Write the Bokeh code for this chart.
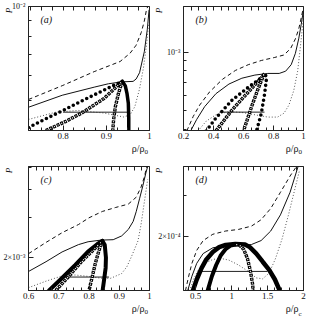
import math
from bokeh.plotting import figure
from bokeh.layouts import gridplot
from bokeh.models import Range1d, FixedTicker, Label, LinearAxis
from bokeh.embed import file_html
from bokeh.resources import INLINE

FONT = "Liberation Serif"

# ---------------- panel (a) ----------------
A_dash_x = [0.72, 0.798, 0.872, 0.932, 0.955, 0.969, 0.981, 0.988, 0.993, 0.996]
A_dash_y = [5.03e-3, 5.57e-3, 6.18e-3, 6.66e-3, 7.08e-3, 7.51e-3, 8.26e-3, 8.98e-3, 9.76e-3, 1.0e-2]
A_solid_x = [0.72, 0.798, 0.872, 0.905, 0.936, 0.962, 0.969, 0.977, 0.988, 0.995, 0.999]
A_solid_y = [4.75e-3, 5.19e-3, 5.51e-3, 5.65e-3, 5.73e-3, 5.75e-3, 5.85e-3, 6.13e-3, 7.16e-3, 8.46e-3, 9.76e-3]
A_dot_x = [0.72, 0.783, 0.835, 0.895, 0.94, 0.955, 0.966, 0.977, 0.986, 0.993, 0.998]
A_dot_y = [4.34e-3, 4.58e-3, 4.64e-3, 4.55e-3, 4.42e-3, 4.49e-3, 4.77e-3, 5.44e-3, 6.36e-3, 7.51e-3, 8.87e-3]
A_tie_x = [0.80, 0.951]
A_tie_y = [4.58e-3, 4.58e-3]
A_fill_x = [0.72, 0.76, 0.80, 0.84, 0.88, 0.91, 0.937]
A_fill_y = [4.09e-3, 4.36e-3, 4.64e-3, 4.95e-3, 5.27e-3, 5.52e-3, 5.76e-3]
A_open_x = [0.760, 0.805, 0.843, 0.895, 0.937, 0.928, 0.921, 0.917, 0.915]
A_open_y = [4.0e-3, 4.27e-3, 4.55e-3, 5.07e-3, 5.76e-3, 5.25e-3, 4.77e-3, 4.34e-3, 4.0e-3]
A_thick_x = [0.937, 0.944, 0.948, 0.951, 0.952, 0.952]
A_thick_y = [5.76e-3, 5.56e-3, 5.25e-3, 4.89e-3, 4.39e-3, 4.0e-3]
A_xticks = [0.8, 0.9, 1.0]
A_xlabels = ["0.8", "0.9", "1"]
A_yticks = [1e-2]
A_ylabels = ["10⁻²"]

# ---------------- panel (b) ----------------
B_dash_x = [0.222, 0.265, 0.308, 0.373, 0.46, 0.546, 0.632, 0.719, 0.805, 0.870, 0.914, 0.946, 0.968, 0.985, 0.996]
B_dash_y = [3.92e-4, 4.66e-4, 5.33e-4, 6.22e-4, 7.24e-4, 8.04e-4, 8.61e-4, 9.05e-4, 9.37e-4, 9.66e-4, 1.043e-3, 1.17e-3, 1.313e-3, 1.502e-3, 1.653e-3]
B_solid_x = [0.248, 0.287, 0.341, 0.416, 0.503, 0.589, 0.676, 0.762, 0.838, 0.881, 0.918, 0.946, 0.968, 0.985, 1.0]
B_solid_y = [3.92e-4, 4.48e-4, 5.23e-4, 6.10e-4, 6.84e-4, 7.33e-4, 7.61e-4, 7.76e-4, 7.76e-4, 7.97e-4, 8.61e-4, 9.85e-4, 1.17e-3, 1.391e-3, 1.653e-3]
B_dot_x = [0.297, 0.351, 0.416, 0.503, 0.589, 0.676, 0.762, 0.827, 0.870, 0.903, 0.935, 0.961, 0.978, 0.994, 1.0]
B_dot_y = [3.92e-4, 4.40e-4, 4.75e-4, 4.93e-4, 4.88e-4, 4.75e-4, 4.62e-4, 4.62e-4, 4.84e-4, 5.33e-4, 6.33e-4, 7.97e-4, 1.043e-3, 1.365e-3, 1.56e-3]
B_tie_x = [0.44, 0.74]
B_tie_y = [4.90e-4, 4.90e-4]
B_fill_x = [0.351, 0.416, 0.524, 0.632, 0.719, 0.742, 0.754, 0.741, 0.719, 0.687]
B_fill_y = [3.92e-4, 4.57e-4, 5.65e-4, 6.58e-4, 7.38e-4, 7.76e-4, 7.38e-4, 6.10e-4, 4.84e-4, 3.92e-4]
B_open_x = [0.416, 0.524, 0.632, 0.730, 0.742, 0.736, 0.697, 0.654, 0.60]
B_open_y = [3.92e-4, 5.03e-4, 6.22e-4, 7.53e-4, 7.76e-4, 7.67e-4, 6.46e-4, 5.23e-4, 3.92e-4]
B_xticks = [0.2, 0.4, 0.6, 0.8, 1.0]
B_xlabels = ["0.2", "0.4", "0.6", "0.8", "1"]
B_yticks = [1e-3]
B_ylabels = ["10⁻³"]

# ---------------- panel (c) ----------------
C_dash_x = [0.6, 0.658, 0.711, 0.765, 0.80, 0.844, 0.887, 0.93, 0.956, 0.972, 0.983, 0.991]
C_dash_y = [2.081e-3, 2.335e-3, 2.577e-3, 2.80e-3, 3.0e-3, 3.2e-3, 3.33e-3, 3.45e-3, 3.70e-3, 4.1e-3, 4.55e-3, 5.06e-3]
C_solid_x = [0.6, 0.658, 0.711, 0.765, 0.797, 0.84, 0.88, 0.908, 0.93, 0.946, 0.956, 0.967, 0.978, 0.988, 0.994]
C_solid_y = [1.736e-3, 1.918e-3, 2.118e-3, 2.282e-3, 2.35e-3, 2.39e-3, 2.40e-3, 2.494e-3, 2.664e-3, 2.892e-3, 3.193e-3, 3.64e-3, 4.155e-3, 4.74e-3, 5.06e-3]
C_dot_x = [0.6, 0.658, 0.711, 0.754, 0.797, 0.840, 0.872, 0.908, 0.925, 0.940, 0.962, 0.972, 0.983, 0.994]
C_dot_y = [1.472e-3, 1.573e-3, 1.66e-3, 1.675e-3, 1.652e-3, 1.62e-3, 1.62e-3, 1.70e-3, 1.82e-3, 2.014e-3, 2.372e-3, 2.799e-3, 3.524e-3, 4.44e-3]
C_tie_x = [0.72, 0.866]
C_tie_y = [1.64e-3, 1.64e-3]
C_fill_x = [0.668, 0.711, 0.754, 0.796, 0.828, 0.844]
C_fill_y = [1.43e-3, 1.625e-3, 1.853e-3, 2.119e-3, 2.297e-3, 2.372e-3]
C_open_x = [0.690, 0.733, 0.775, 0.818, 0.845, 0.833, 0.821, 0.811, 0.80]
C_open_y = [1.43e-3, 1.651e-3, 1.918e-3, 2.186e-3, 2.374e-3, 2.151e-3, 1.888e-3, 1.651e-3, 1.43e-3]
C_thick_x = [0.844, 0.852, 0.856, 0.855, 0.850, 0.845]
C_thick_y = [2.372e-3, 2.28e-3, 2.0e-3, 1.8e-3, 1.6e-3, 1.43e-3]
C_xticks = [0.6, 0.7, 0.8, 0.9, 1.0]
C_xlabels = ["0.6", "0.7", "0.8", "0.9", "1"]
C_yticks = [2e-3]
C_ylabels = ["2×10⁻³"]

# ---------------- panel (d) ----------------
D_dash_x = [0.357, 0.402, 0.447, 0.514, 0.603, 0.738, 0.917, 1.096, 1.275, 1.410, 1.544, 1.679, 1.813, 1.903]
D_dash_y = [1.16e-4, 1.341e-4, 1.525e-4, 1.736e-4, 1.914e-4, 2.039e-4, 2.106e-4, 2.14e-4, 2.211e-4, 2.357e-4, 2.638e-4, 3.1e-4, 3.645e-4, 4.015e-4]
D_solid_x = [0.388, 0.447, 0.514, 0.603, 0.738, 0.917, 1.096, 1.275, 1.410, 1.544, 1.679, 1.813, 1.925]
D_solid_y = [1.16e-4, 1.341e-4, 1.525e-4, 1.681e-4, 1.781e-4, 1.822e-4, 1.822e-4, 1.84e-4, 1.914e-4, 2.106e-4, 2.474e-4, 3.1e-4, 4.015e-4]
D_dot_x = [0.415, 0.469, 0.536, 0.626, 0.738, 0.850, 0.962, 1.096, 1.231, 1.343, 1.432, 1.522, 1.611, 1.701, 1.791, 1.880, 1.947]
D_dot_y = [1.16e-4, 1.298e-4, 1.43e-4, 1.525e-4, 1.586e-4, 1.602e-4, 1.575e-4, 1.5e-4, 1.407e-4, 1.319e-4, 1.307e-4, 1.384e-4, 1.602e-4, 1.943e-4, 2.474e-4, 3.203e-4, 3.887e-4]
D_tie_x = [0.56, 1.50]
D_tie_y = [1.407e-4, 1.407e-4]
D_fill_x = [0.46, 0.514, 0.581, 0.648, 0.738, 0.827, 0.917, 1.051, 1.186, 1.253, 1.343, 1.432, 1.522, 1.602, 1.67]
D_fill_y = [1.16e-4, 1.298e-4, 1.454e-4, 1.586e-4, 1.708e-4, 1.793e-4, 1.834e-4, 1.85e-4, 1.84e-4, 1.793e-4, 1.681e-4, 1.55e-4, 1.43e-4, 1.298e-4, 1.16e-4]
D_thick_x = [0.665, 0.725, 0.785, 0.850, 0.920, 0.984, 1.05]
D_thick_y = [1.16e-4, 1.341e-4, 1.5e-4, 1.654e-4, 1.764e-4, 1.822e-4, 1.84e-4]
D_open_x = [1.05, 1.10, 1.17, 1.22, 1.26, 1.29, 1.30]
D_open_y = [1.84e-4, 1.84e-4, 1.75e-4, 1.6e-4, 1.42e-4, 1.25e-4, 1.16e-4]
D_xticks = [0.5, 1.0, 1.5, 2.0]
D_xlabels = ["0.5", "1", "1.5", "2"]
D_yticks = [2e-4]
D_ylabels = ["2×10⁻⁴"]

INK = "#111111"


def frame(w, h, bl, br, bt, bb, xr, yr, xticks, xlabels, xminor, yticks, ylabels, yminor,
          tag, sub, p_dx):
    p = figure(width=w, height=h, x_range=Range1d(*xr), y_range=Range1d(*yr),
               y_axis_type="log", output_backend="svg", toolbar_location=None,
               min_border_left=bl, min_border_right=br, min_border_top=bt, min_border_bottom=bb,
               background_fill_color="white", border_fill_color="white")
    p.grid.visible = False
    p.outline_line_color = "#222222"
    p.outline_line_width = 1
    ax = p.xaxis[0]
    ax.ticker = FixedTicker(ticks=xticks, minor_ticks=xminor)
    ax.major_label_overrides = dict(zip(xticks, xlabels))
    ay = p.yaxis[0]
    ay.ticker = FixedTicker(ticks=yticks, minor_ticks=yminor)
    ay.major_label_overrides = dict(zip(yticks, ylabels))
    for a in (ax, ay):
        a.major_tick_in = 5
        a.major_tick_out = 0
        a.minor_tick_in = 3
        a.minor_tick_out = 0
        a.axis_line_color = "#222222"
        a.major_tick_line_color = "#222222"
        a.minor_tick_line_color = "#222222"
        a.major_label_text_font = FONT
        a.major_label_text_color = INK
    ax.major_label_text_font_size = "9px"
    ax.major_label_standoff = 2
    ay.major_label_text_font_size = "8px"
    ay.major_label_standoff = 3
    # mirrored tick marks along the top edge (no labels there)
    top = LinearAxis(ticker=FixedTicker(ticks=[], minor_ticks=sorted(set(xticks) | set(xminor))),
                     minor_tick_in=4, minor_tick_out=0, major_tick_in=0, major_tick_out=0,
                     axis_line_color=None, minor_tick_line_color="#222222")
    p.add_layout(top, "above")
    # texts that lie outside the frame live in side panels so they are not clipped
    p.add_layout(Label(x=xr[0], y=yr[1], x_offset=p_dx, y_offset=-4, text="P", angle=math.pi / 2,
                       text_font=FONT, text_font_style="italic", text_font_size="9px",
                       text_align="center", text_baseline="middle", text_color=INK), "above")
    p.add_layout(Label(x=xr[1], y=yr[0], x_offset=-5, y_offset=-12, text="ρ/ρ",
                       text_font=FONT, text_font_size="10px", text_align="right",
                       text_baseline="top", text_color=INK), "below")
    p.add_layout(Label(x=xr[1], y=yr[0], x_offset=-5, y_offset=-19, text=sub,
                       text_font=FONT, text_font_size="7px", text_align="left",
                       text_baseline="top", text_color=INK), "right")
    p.add_layout(Label(x=xr[0], y=yr[1], x_offset=12, y_offset=-13, text=tag,
                       text_font=FONT, text_font_style="italic", text_font_size="10px",
                       text_align="left", text_baseline="middle", text_color=INK))
    return p


def curves(p, dash, solid, dot, tie):
    p.line(dash[0], dash[1], line_color=INK, line_width=1, line_dash="4 3")
    p.line(solid[0], solid[1], line_color=INK, line_width=1)
    p.line(dot[0], dot[1], line_color="#555555", line_width=1, line_dash="1 2")
    p.line(tie[0], tie[1], line_color="#222222", line_width=1)


def dots(p, x, y, w=3.6, gap=5):
    p.line(x, y, line_color="black", line_width=w, line_dash="0 %d" % gap, line_cap="round")


def squares(p, x, y, w=3.4):
    p.line(x, y, line_color="black", line_width=w, line_dash="3 1")
    p.line(x, y, line_color="white", line_width=1.2, line_dash="0 1 1 2")


def thick(p, x, y, w=3.5):
    p.line(x, y, line_color="black", line_width=w, line_cap="round")


def minor(a, b, step):
    n = int(round((b - a) / step))
    return [round(a + step * i, 4) for i in range(n + 1)]


pa = frame(153, 156, 24, 4, 6, 26, (0.72, 1.0), (4e-3, 1e-2), A_xticks, A_xlabels,
           minor(0.725, 1.0, 0.025), A_yticks, A_ylabels, [5e-3, 6e-3, 7e-3, 8e-3, 9e-3], "(a)", "0", -20)
curves(pa, (A_dash_x, A_dash_y), (A_solid_x, A_solid_y), (A_dot_x, A_dot_y), (A_tie_x, A_tie_y))
dots(pa, A_fill_x, A_fill_y)
squares(pa, A_open_x, A_open_y)
thick(pa, A_thick_x, A_thick_y)

pb = frame(154, 156, 30, 3, 6, 26, (0.2, 1.0), (3.94e-4, 1.718e-3), B_xticks, B_xlabels,
           minor(0.2, 1.0, 0.05), B_yticks, B_ylabels, [4e-4, 5e-4, 6e-4, 7e-4, 8e-4, 9e-4], "(b)", "0", -25)
curves(pb, (B_dash_x, B_dash_y), (B_solid_x, B_solid_y), (B_dot_x, B_dot_y), (B_tie_x, B_tie_y))
dots(pb, B_fill_x, B_fill_y)
squares(pb, B_open_x, B_open_y)

pc = frame(153, 160, 24, 4, 10, 26, (0.6, 1.0), (1.43e-3, 5.06e-3), C_xticks, C_xlabels,
           minor(0.6, 1.0, 0.025), C_yticks, C_ylabels, [3e-3, 4e-3, 5e-3], "(c)", "0", -20)
curves(pc, (C_dash_x, C_dash_y), (C_solid_x, C_solid_y), (C_dot_x, C_dot_y), (C_tie_x, C_tie_y))
thick(pc, C_fill_x, C_fill_y, 4)
squares(pc, C_open_x, C_open_y)
thick(pc, C_thick_x, C_thick_y, 4)

pd = frame(154, 160, 30, 3, 10, 26, (0.33, 2.0), (1.163e-4, 4.01e-4), D_xticks, D_xlabels,
           minor(0.4, 2.0, 0.1), D_yticks, D_ylabels, [3e-4, 4e-4], "(d)", "c", -25)
curves(pd, (D_dash_x, D_dash_y), (D_solid_x, D_solid_y), (D_dot_x, D_dot_y), (D_tie_x, D_tie_y))
thick(pd, D_fill_x, D_fill_y, 4.5)
thick(pd, D_thick_x, D_thick_y, 4)
squares(pd, D_open_x, D_open_y)

grid = gridplot([[pa, pb], [pc, pd]], toolbar_location=None)
open("out.html", "w").write(file_html(grid, INLINE))
